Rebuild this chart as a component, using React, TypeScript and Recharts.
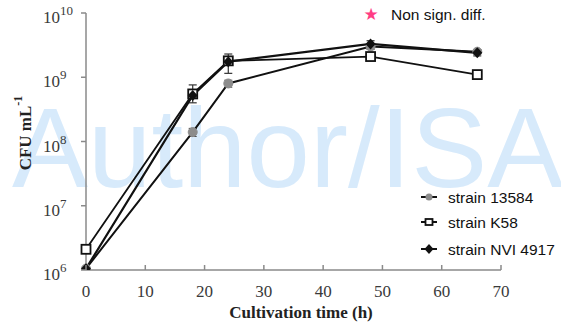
import React from 'react';
import { LineChart, Line, XAxis, YAxis, ErrorBar } from 'recharts';

const times = [0, 18, 24, 48, 66];
const strain13584 = [1.05e6, 1.4e8, 8.0e8, 3.0e9, 2.5e9];
const strainK58 = [2.1e6, 5.5e8, 1.8e9, 2.1e9, 1.1e9];
const strainNVI = [1.05e6, 5.2e8, 1.75e9, 3.3e9, 2.4e9];
const errNVI: [number, number][] = [[0, 0], [1.2e8, 2.4e8], [0.6e9, 0.55e9], [0.4e9, 0.4e9], [0.25e9, 0.25e9]];
const err13584: [number, number][] = [[0, 0], [0.2e8, 0.2e8], [0.1e9, 0.1e9], [0.3e9, 0.3e9], [0.2e9, 0.2e9]];

const xTicks = [0, 10, 20, 30, 40, 50, 60, 70];
const yTicks = [1e6, 1e7, 1e8, 1e9, 1e10];
const seriesNames = ['strain 13584', 'strain K58', 'strain NVI 4917'];

const data = times.map((t, i) => ({
  t,
  a: strain13584[i],
  b: strainK58[i],
  c: strainNVI[i],
  ea: err13584[i],
  ec: errNVI[i],
}));

const SERIF = '"Liberation Serif", "Times New Roman", serif';
const SANS = '"Liberation Sans", Arial, sans-serif';
const AXIS = '#8a8a8a';

const XTick = (props: any) => {
  const { x, y, payload } = props;
  return (
    <g>
      <line x1={x} x2={x} y1={y} y2={y - 5} stroke={AXIS} strokeWidth={1.5} />
      <text x={x} y={y + 27} textAnchor="middle" fontFamily={SERIF} fontSize={17} fill="#3a3a3a">
        {payload.value}
      </text>
    </g>
  );
};

const YTick = (props: any) => {
  const { x, y, payload } = props;
  const exp = Math.round(Math.log10(payload.value));
  return (
    <g>
      <line x1={x - 5} x2={x} y1={y} y2={y} stroke={AXIS} strokeWidth={1.5} />
      <text x={x - 43} y={y + 10} fontFamily={SERIF} fontSize={17} fill="#3a3a3a">
        10
        <tspan dy={-8} fontSize={13}>{exp}</tspan>
      </text>
    </g>
  );
};

const CircleDot = (props: any) => {
  const { cx, cy } = props;
  return <circle cx={cx} cy={cy} r={4.5} fill="#8c8c8c" stroke="#8c8c8c" />;
};
const SquareDot = (props: any) => {
  const { cx, cy } = props;
  return <rect x={cx - 4.5} y={cy - 4.5} width={9} height={9} fill="#fff" stroke="#111" strokeWidth={1.8} />;
};
const DiamondDot = (props: any) => {
  const { cx, cy } = props;
  return <polygon points={`${cx},${cy - 5.5} ${cx + 5},${cy} ${cx},${cy + 5.5} ${cx - 5},${cy}`} fill="#111" />;
};

const markerFns = [
  (x: number, y: number) => <circle cx={x} cy={y} r={3.5} fill="#8c8c8c" />,
  (x: number, y: number) => <rect x={x - 3.5} y={y - 3} width={7} height={6} fill="#fff" stroke="#111" strokeWidth={1.8} />,
  (x: number, y: number) => <polygon points={`${x},${y - 5} ${x + 4.5},${y} ${x},${y + 5} ${x - 4.5},${y}`} fill="#111" />,
];
const legendY = [197, 222, 249];

export default function App() {
  return (
    <div style={{ position: 'absolute', left: 0, top: 0, width: 561, height: 328, background: '#fff', overflow: 'hidden' }}>
      <svg width={561} height={328} style={{ position: 'absolute', left: 0, top: 0 }}>
        <text x={12} y={187} fontFamily={SANS} fontSize={114} fill="#d7eafb">Author/ISA</text>
      </svg>
      <div style={{ position: 'absolute', left: 0, top: 0 }}>
        <LineChart width={561} height={328} data={data} margin={{ top: 13, right: 60, bottom: 0, left: 0 }}>
          <XAxis
            dataKey="t"
            type="number"
            domain={[0, 70]}
            ticks={xTicks}
            tickSize={0}
            tickMargin={0}
            tick={<XTick />}
            stroke={AXIS}
            strokeWidth={1.5}
            height={58}
          />
          <YAxis
            type="number"
            scale="log"
            domain={[1e6, 1e10]}
            ticks={yTicks}
            allowDataOverflow
            tickSize={0}
            tickMargin={0}
            tick={<YTick />}
            stroke={AXIS}
            strokeWidth={1.5}
            width={86}
          />
          <Line dataKey="a" stroke="#111" strokeWidth={2} isAnimationActive={false} dot={<CircleDot />}>
            <ErrorBar dataKey="ea" width={4} stroke="#444" strokeWidth={1} direction="y" />
          </Line>
          <Line dataKey="b" stroke="#111" strokeWidth={1.8} isAnimationActive={false} dot={<SquareDot />} />
          <Line dataKey="c" stroke="#111" strokeWidth={2.2} isAnimationActive={false} dot={<DiamondDot />}>
            <ErrorBar dataKey="ec" width={4} stroke="#333" strokeWidth={1.2} direction="y" />
          </Line>
        </LineChart>
      </div>
      <svg width={561} height={328} style={{ position: 'absolute', left: 0, top: 0, pointerEvents: 'none' }}>
        <text x={25} y={133} transform="rotate(-90 25 133)" textAnchor="middle" dominantBaseline="central" fontFamily={SERIF} fontWeight="bold" fontSize={17} fill="#222">
          CFU mL<tspan dy={-7} fontSize={12}>-1</tspan>
        </text>
        <text x={301} y={318} textAnchor="middle" fontFamily={SERIF} fontWeight="bold" fontSize={17} fill="#222">
          Cultivation time (h)
        </text>
        <text x={371} y={20} textAnchor="middle" fontSize={17} fill="#ff3d84" fontFamily='"DejaVu Sans", sans-serif'>★</text>
        <text x={391} y={20} fontFamily={SANS} fontSize={15.5} fill="#111">Non sign. diff.</text>
        {seriesNames.map((name, i) => (
          <g key={name}>
            <line x1={421} x2={437} y1={legendY[i]} y2={legendY[i]} stroke="#111" strokeWidth={2} />
            {markerFns[i](429, legendY[i])}
            <text x={448} y={legendY[i] + 5.5} fontFamily={SANS} fontSize={15.5} fill="#111">{name}</text>
          </g>
        ))}
      </svg>
    </div>
  );
}
